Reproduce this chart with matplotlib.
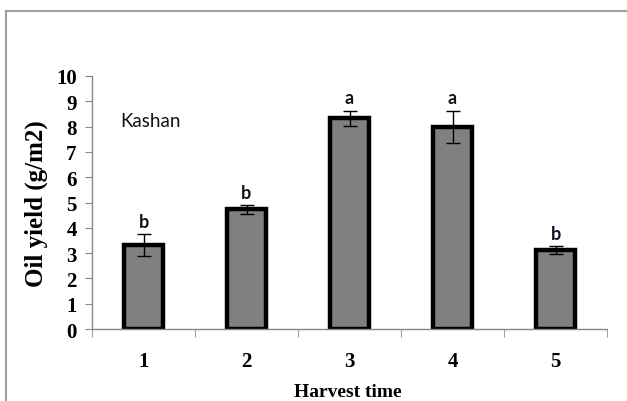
import numpy as np
import matplotlib
matplotlib.use("Agg")
import matplotlib.pyplot as plt
from matplotlib.patches import Rectangle

# --- datos ---
harvest = [1, 2, 3, 4, 5]
oil_yield = [3.33, 4.73, 8.33, 7.97, 3.12]
err_low = [2.90, 4.55, 8.01, 7.34, 2.95]
err_high = [3.75, 4.89, 8.63, 8.63, 3.28]
letters = ["b", "b", "a", "a", "b"]

serif = "Liberation Serif"
sans = "Lato"

fig = plt.figure(figsize=(6.27, 4.02), dpi=100)
ax = fig.add_axes([92 / 627, 1 - 330 / 402, 515 / 627, 253 / 402])

# marco gris de la figura
fig.patches.append(Rectangle((6 / 627, -0.1), 1.2, 1 - 12 / 402 + 0.1,
                             transform=fig.transFigure, fill=False,
                             edgecolor="#a0a0a0", linewidth=1.5))

y = np.array(oil_yield)
yerr = [y - np.array(err_low), np.array(err_high) - y]
ax.bar(harvest, y, width=0.37, color="#808080", edgecolor="black",
       linewidth=3.2, zorder=2)
ax.errorbar(harvest, y, yerr=yerr, fmt="none", ecolor="black",
            elinewidth=1.0, capsize=5, capthick=1.0, zorder=3)

for xi, top, lab in zip(harvest, err_high, letters):
    ax.annotate(lab, (xi, top), xytext=(0, 3), textcoords="offset points",
                ha="center", va="bottom", fontsize=13, fontweight="bold",
                family=sans, color="#111122")

ax.text(0.054, 8.26, "Kashan", transform=ax.get_yaxis_transform(),
        fontsize=13.5, family=sans, va="center", ha="left", color="#111111")

ax.set_xlim(0.5, 5.5)
ax.set_ylim(0, 10)
ax.set_yticks(range(0, 11))
ax.set_xticks(harvest)
ax.set_xticks(np.arange(0.5, 6, 1), minor=True)
ax.tick_params(axis="x", which="major", length=0, pad=16)
ax.tick_params(axis="x", which="minor", length=6, color="#888888", direction="out")
ax.tick_params(axis="y", length=5, color="#888888", direction="out", pad=6)

for lab in ax.get_xticklabels() + ax.get_yticklabels():
    lab.set_family(serif)
    lab.set_fontweight("bold")
    lab.set_fontsize(15)

for s in ["top", "right"]:
    ax.spines[s].set_visible(False)
for s in ["left", "bottom"]:
    ax.spines[s].set_color("#888888")
    ax.spines[s].set_linewidth(1.0)

ax.set_ylabel("Oil yield (g/m2)", family=serif, fontweight="bold",
              fontsize=18, labelpad=6)
fig.text(348 / 627, 1 / 402, "Harvest time", family=serif, fontweight="bold",
         fontsize=14, ha="center", va="bottom")

fig.savefig("out.png", dpi=100)
